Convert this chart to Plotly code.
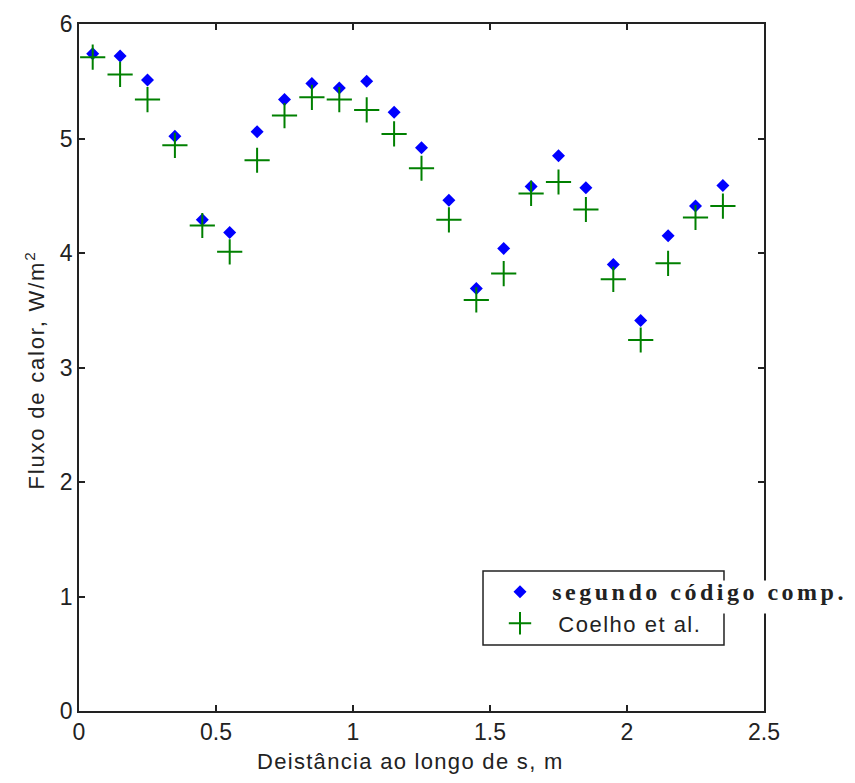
import plotly.graph_objects as go

x_vals = [0.05, 0.15, 0.25, 0.35, 0.45, 0.55, 0.65, 0.75, 0.85, 0.95, 1.05, 1.15,
          1.25, 1.35, 1.45, 1.55, 1.65, 1.75, 1.85, 1.95, 2.05, 2.15, 2.25, 2.35]
segundo = [5.74, 5.72, 5.51, 5.02, 4.29, 4.18, 5.06, 5.34, 5.48, 5.44, 5.50, 5.23,
           4.92, 4.46, 3.69, 4.04, 4.58, 4.85, 4.57, 3.90, 3.41, 4.15, 4.41, 4.59]
coelho = [5.71, 5.56, 5.34, 4.94, 4.24, 4.01, 4.81, 5.20, 5.36, 5.34, 5.25, 5.04,
          4.74, 4.29, 3.59, 3.82, 4.52, 4.62, 4.38, 3.77, 3.24, 3.91, 4.31, 4.41]
x_ticks = [0, 0.5, 1, 1.5, 2, 2.5]
y_ticks = [0, 1, 2, 3, 4, 5, 6]

SANS = "Liberation Sans, Arial, sans-serif"
INK = "#222222"

fig = go.Figure()
fig.add_trace(go.Scatter(
    x=x_vals, y=segundo, mode="markers",
    name="\u00a0\u00a0<b><span style=\"font-family:'Liberation Serif';font-size:24px;letter-spacing:3.5px\">segundo código comp.</span></b>",
    marker=dict(symbol="diamond", size=10, color="#0000ff", line=dict(width=0)),
))
fig.add_trace(go.Scatter(
    x=x_vals, y=coelho, mode="markers",
    name="\u00a0\u00a0\u00a0<span style=\"letter-spacing:1.5px\">Coelho et al.</span>",
    marker=dict(symbol="cross-thin", size=18, color="#008000",
                line=dict(width=2, color="#008000")),
))

axis_common = dict(
    showline=True, linecolor=INK, linewidth=1.5, mirror="ticks",
    ticks="inside", ticklen=6, tickwidth=1.5, tickcolor=INK,
    showgrid=False, zeroline=False,
    tickfont=dict(family=SANS, size=23, color=INK),
)
fig.update_xaxes(range=[0, 2.5], tickvals=x_ticks, ticktext=[str(v) for v in x_ticks], **axis_common)
fig.update_yaxes(range=[0, 6], tickvals=y_ticks, ticktext=[str(v) for v in y_ticks], **axis_common)

fig.update_layout(
    width=855, height=783,
    margin=dict(l=79, r=91, t=24, b=72, autoexpand=False),
    paper_bgcolor="white", plot_bgcolor="white",
    showlegend=True,
    legend=dict(
        x=0.6146, y=0.204, xanchor="left", yanchor="top",
        bgcolor="rgba(0,0,0,0)", borderwidth=0,
        font=dict(family=SANS, size=22, color=INK),
    ),
    shapes=[
        dict(type="rect", xref="paper", yref="paper", x0=0.5898, x1=0.9416, y0=0.0961, y1=0.2038,
             line=dict(color=INK, width=1.5), fillcolor="white", layer="above"),
        dict(type="rect", xref="paper", yref="paper", x0=0.93, x1=1.13, y0=0.142, y1=0.19,
             line=dict(width=0), fillcolor="white", layer="above"),
    ],
    annotations=[
        dict(text="<span style=\"letter-spacing:1.3px\">Deistância ao longo de s, m</span>",
             xref="paper", yref="paper",
             x=0.484, y=-0.0728, xanchor="center", yanchor="middle", showarrow=False,
             font=dict(family=SANS, size=22, color=INK)),
        dict(text="<span style=\"letter-spacing:1.8px\">Fluxo de calor, W/m<sup>2</sup></span>",
             xref="paper", yref="paper",
             x=-0.064, y=0.496, xanchor="center", yanchor="middle", textangle=-90, showarrow=False,
             font=dict(family=SANS, size=22, color=INK)),
    ],
)

fig.write_html("out.html")
